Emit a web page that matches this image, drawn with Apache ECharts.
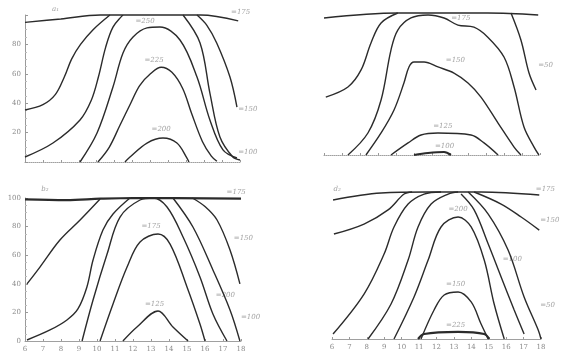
<!DOCTYPE html>
<html>
<head>
<meta charset="utf-8">
<script src="https://cdn.jsdelivr.net/npm/echarts@6/dist/echarts.min.js"></script>
<style>
  html, body { margin: 0; padding: 0; background: #fff; }
  #chart { width: 562px; height: 354px; }
</style>
</head>
<body>
<div id="chart"></div>
<script>
// Hour labels along the time axis (index 0..12)
const hourTicks = ['6', '7', '8', '9', '10', '11', '12', '13', '14', '15', '16', '17', '18'];
const pctTicks = [0, 20, 40, 60, 80, 100];

// Panel a1 (top left): isolines, [hour index, percent]
const a1Top    = [[0, 95], [2, 97.3], [4.2, 100], [9.8, 100], [11.9, 96]];
const a1OuterL = [[0, 35.4], [1.0, 39], [1.7, 46], [2.2, 58], [2.6, 70], [3.1, 80], [3.8, 90], [4.74, 100]];
const a1OuterR = [[9.6, 100], [10.15, 93], [10.7, 81], [11.44, 57.8], [11.83, 37.4]];
const a1SecondL = [[0, 3.4], [1.56, 12.9], [3.07, 28.6], [3.7, 42], [4.1, 58], [4.5, 78], [4.91, 91.8], [5.47, 100]];
const a1SecondR = [[8.82, 100], [9.77, 81], [10.32, 46.9], [10.88, 17], [11.6, 3.4], [12, 1.4]];
const a1Iso250 = [[3.07, 0], [4.02, 19.7], [4.91, 51], [5.47, 74.1], [6.03, 85], [6.81, 91.2], [7.53, 91.8], [8.65, 83], [9.6, 57.8], [10.32, 28.6], [11.05, 8.2], [11.83, 2.7]];
const a1Iso225 = [[4.07, 0], [4.7, 10], [5.3, 25], [5.9, 40], [6.4, 52], [7.0, 60], [7.6, 64.5], [8.2, 61], [8.8, 50], [9.3, 33], [9.9, 14], [10.4, 4], [10.71, 0.5]];
const a1Iso200 = [[5.58, 0], [5.86, 3.4], [6.81, 12.9], [7.7, 16.3], [8.48, 12.9], [9.04, 2.7], [9.15, 0]];

// Panel a2 (top right)
const a2Top    = [[0, 96.5], [4.1, 100], [9.1, 100], [11.9, 98.6]];
const a2OuterL = [[0.1, 40.8], [1.33, 47.9], [2.06, 59.9], [2.61, 78.9], [3.17, 93], [4.1, 100]];
const a2OuterR = [[10.39, 100], [10.94, 81], [11.39, 57.7], [11.78, 45.8]];
const a2Iso175 = [[1.33, 0], [2.44, 15.5], [3.17, 38.7], [3.72, 73.9], [4.1, 88], [4.83, 96.5], [5.78, 98.6], [6.67, 96.5], [7.44, 91.5], [8.33, 90], [9.1, 83], [10, 69], [10.56, 47.9], [11.11, 19.7], [11.67, 5.6], [11.94, 0]];
const a2Iso150 = [[2.33, 0], [3.17, 15.5], [3.89, 31.7], [4.44, 50.7], [4.72, 62], [5, 65.5], [5.56, 65.5], [6.33, 62], [7.22, 57.7], [8, 50.7], [8.72, 40.8], [9.67, 22.5], [10.56, 5.6], [10.94, 0]];
const a2Iso125 = [[3.72, 0], [4.67, 8.5], [5.39, 14.1], [6.33, 15.5], [8.17, 14.1], [8.89, 8.5], [9.67, 0]];
const a2Iso100 = [[5, 0], [5.78, 1.4], [6.67, 2.1], [7.05, 0]];

// Panel b2 (bottom left)
const b2Top    = [[0, 99], [2.3, 98.5], [4.2, 99.5], [6, 100], [12, 99.5]];
const b2OuterL = [[0.11, 39.9], [0.83, 51.7], [1.94, 70.6], [3.06, 84.6], [4.17, 99.3]];
const b2OuterR = [[9.3, 100], [10.0, 94], [10.67, 84.6], [11.39, 63.6], [11.94, 39.9]];
const b2SecondL = [[0.11, 0.7], [1.39, 7.7], [2.33, 14.7], [2.94, 22.4], [3.44, 37.8], [3.78, 56.6], [4.33, 77.6], [4.89, 88.8], [5.83, 100]];
const b2SecondR = [[8.22, 100], [9.33, 79.7], [10.44, 49.7], [11.39, 21.7], [11.94, 0]];
const b2Iso200 = [[3.17, 0], [3.78, 28.7], [4.56, 60.8], [5.28, 86.7], [6.39, 98.6], [7.11, 100], [7.89, 93.7], [8.78, 72.7], [9.72, 44.8], [10.44, 18.9], [11.22, 0]];
const b2Iso175 = [[4.17, 0], [4.89, 25.9], [5.67, 51.7], [6.39, 69.2], [7.39, 74.8], [8.06, 67.8], [9, 37.8], [9.72, 11.9], [10, 0]];
const b2Iso125 = [[5.44, 0], [6.22, 9.8], [7.39, 21], [8.22, 9.8], [9.06, 0]];

// Panel d2 (bottom right)
const d2Top    = [[0.06, 94.6], [2.82, 99.3], [5.5, 100], [8.56, 100], [11.9, 98]];
const d2OuterL = [[0.11, 71.4], [1.84, 78.2], [3.22, 87.8], [4.14, 98.6], [4.6, 100]];
const d2OuterR = [[8.16, 100], [9.71, 91.8], [10.86, 83], [11.9, 74.1]];
const d2SecondL = [[0.06, 3.4], [1.84, 30.6], [2.99, 57.8], [3.56, 76.2], [4.37, 91.8], [5.29, 98.6], [6.26, 100]];
const d2SecondR = [[7.82, 100], [8.97, 85], [10.11, 60.5], [11.03, 28.6], [11.84, 6.1], [12, 0]];
const d2ThirdL = [[2.07, 0], [3.39, 23.8], [4.37, 53.7], [4.94, 76.2], [5.69, 91.8], [6.67, 98.6], [7.24, 100]];
const d2ThirdR = [[7.41, 98.6], [8.16, 87.8], [8.97, 64.6], [9.71, 42.2], [10.46, 19.7], [11.03, 3.4]];
const d2Iso200 = [[3.56, 0], [4.71, 28.6], [5.52, 53.7], [6.26, 76.2], [7.24, 83], [7.99, 76.2], [8.74, 53.7], [9.31, 23.8], [9.89, 0]];
const d2Iso150 = [[5.11, 0], [5.86, 19.7], [6.44, 29.9], [7.24, 32], [7.99, 25.2], [8.56, 10.2], [8.97, 0]];
const d2Iso225 = [[4.94, 0], [5.29, 3.4], [7.24, 4.8], [8.74, 3.4], [9.02, 0]];

// Isoline captions: [hour index, percent, text]
const a1Notes = [[6.7, 95.5, '=250'], [7.2, 69, '=225'], [7.6, 22, '=200'], [1.7, 104, 'a₁']];
const a1EdgeNotes = [[11.9, 36, '=150'], [11.9, 7, '=100'], [11.5, 102, '=175']];
const a2Notes = [[7.6, 96.5, '=175'], [7.3, 67, '=150'], [6.6, 20, '=125'], [6.7, 6, '=100']];
const a2EdgeNotes = [[11.9, 63, '=50']];
const b2Notes = [[7.0, 80, '=175'], [7.2, 26, '=125'], [1.1, 106, 'b₂']];
const b2EdgeNotes = [[10.6, 32, '=200'], [12.0, 17, '=100'], [11.6, 72, '=150'], [11.2, 104, '=175']];
const d2Notes = [[7.24, 88, '=200'], [7.1, 37, '=150'], [10.35, 54, '=100'], [7.1, 9.5, '=225'], [0.3, 102, 'd₂']];
const d2EdgeNotes = [[11.95, 81, '=150'], [11.95, 23, '=50'], [11.7, 102, '=175']];

const panels = [
  { grid: { left: 25, top: 15, width: 215, height: 147 }, xLabels: false, yLabels: 'inner', yLine: true,
    curves: [a1Top, a1OuterL, a1OuterR, a1SecondL, a1SecondR, a1Iso250, a1Iso225, a1Iso200],
    bold: [], notes: a1Notes, edge: a1EdgeNotes },
  { grid: { left: 324, top: 13, width: 216, height: 142 }, xLabels: false, yLabels: 'none', yLine: false,
    curves: [a2Top, a2OuterL, a2OuterR, a2Iso175, a2Iso150, a2Iso125, a2Iso100],
    bold: [a2Iso100], notes: a2Notes, edge: a2EdgeNotes },
  { grid: { left: 25, top: 198, width: 216, height: 143 }, xLabels: true, yLabels: 'all', yLine: true,
    curves: [b2Top, b2OuterL, b2OuterR, b2SecondL, b2SecondR, b2Iso200, b2Iso175, b2Iso125],
    bold: [b2Top], notes: b2Notes, edge: b2EdgeNotes },
  { grid: { left: 332, top: 192, width: 209, height: 147 }, xLabels: true, yLabels: 'none', yLine: false,
    curves: [d2Top, d2OuterL, d2OuterR, d2SecondL, d2SecondR, d2ThirdL, d2ThirdR, d2Iso200, d2Iso150, d2Iso225],
    bold: [d2Iso225], notes: d2Notes, edge: d2EdgeNotes }
];

const ink = '#2b2b2b';
const faint = '#8a8a8a';
const textFont = 'DejaVu Serif';

const option = {
  backgroundColor: '#fff',
  animation: false,
  grid: [], xAxis: [], yAxis: [], series: []
};

panels.forEach((p, i) => {
  option.grid.push(p.grid);
  option.xAxis.push({
    type: 'value', gridIndex: i, min: 0, max: 12, interval: 1,
    axisLine: { show: true, lineStyle: { color: '#a0a0a0', width: 1, type: p.xLabels ? 'solid' : 'dotted' } },
    axisTick: { show: true, length: 2, inside: true, lineStyle: { color: '#999' } },
    axisLabel: {
      show: p.xLabels, fontSize: 7, color: faint, fontFamily: textFont, margin: 5,
      formatter: v => hourTicks[v] || ''
    },
    splitLine: { show: false }
  });
  option.yAxis.push({
    type: 'value', gridIndex: i, min: 0, max: 100, interval: 20,
    axisLine: { show: p.yLine, lineStyle: { color: '#9a9a9a', width: 1 } },
    axisTick: { show: p.yLine, length: 3, inside: true, lineStyle: { color: '#999' } },
    minorTick: { show: p.yLine, splitNumber: 4, length: 2, lineStyle: { color: '#bbb' } },
    axisLabel: {
      show: p.yLabels !== 'none', fontSize: 7, color: faint, fontFamily: textFont, margin: 4,
      formatter: v => {
        if (p.yLabels === 'inner' && (v === 0 || v === 100)) return '';
        return pctTicks.indexOf(v) >= 0 ? String(v) : '';
      }
    },
    splitLine: { show: false }
  });
  p.curves.forEach(c => {
    const heavy = p.bold.indexOf(c) >= 0;
    option.series.push({
      type: 'line', xAxisIndex: i, yAxisIndex: i, data: c,
      showSymbol: false, smooth: 0.35, clip: false, silent: true,
      lineStyle: { color: ink, width: heavy ? 2.2 : 1.4 }
    });
  });
  option.series.push({
    type: 'scatter', xAxisIndex: i, yAxisIndex: i, data: p.notes,
    symbolSize: 0, clip: false, silent: true,
    label: { show: true, position: 'inside', formatter: d => d.data[2],
      fontSize: 7, color: faint, fontFamily: textFont, fontStyle: 'italic' }
  });
  option.series.push({
    type: 'scatter', xAxisIndex: i, yAxisIndex: i, data: p.edge,
    symbolSize: 0, clip: false, silent: true,
    label: { show: true, position: 'right', distance: 0, formatter: d => d.data[2],
      fontSize: 7, color: faint, fontFamily: textFont, fontStyle: 'italic' }
  });
});

const chart = echarts.init(document.getElementById('chart'), null, { renderer: 'canvas' });
chart.setOption(option);
</script>
</body>
</html>
